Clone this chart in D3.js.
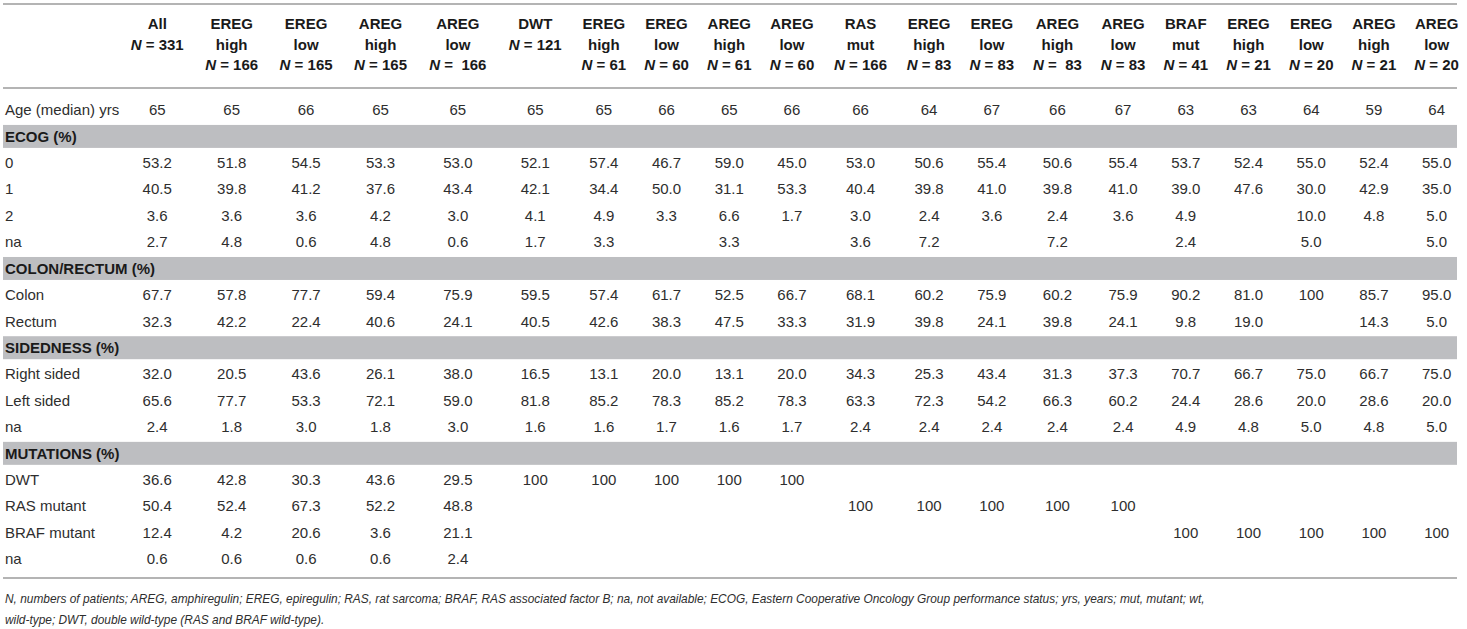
<!DOCTYPE html>
<html>
<head>
<meta charset="utf-8">
<script src="https://cdn.jsdelivr.net/npm/d3@7"></script>
<style>
  body { margin: 0; background: #fff; }
  svg text { font-family: "Liberation Sans", Arial, Helvetica, sans-serif; white-space: pre; }
</style>
</head>
<body>
<script>
// column headers (20 patient groups)
const colName = ['All', 'EREG', 'EREG', 'AREG', 'AREG', 'DWT', 'EREG', 'EREG', 'AREG', 'AREG',
                 'RAS', 'EREG', 'EREG', 'AREG', 'AREG', 'BRAF', 'EREG', 'EREG', 'AREG', 'AREG'];
const colSub  = ['', 'high', 'low', 'high', 'low', '', 'high', 'low', 'high', 'low',
                 'mut', 'high', 'low', 'high', 'low', 'mut', 'high', 'low', 'high', 'low'];
const colN    = ['331', '166', '165', '165', ' 166', '121', '61', '60', '61', '60',
                 '166', '83', '83', ' 83', '83', '41', '21', '20', '21', '20'];

// table values, null = empty cell
const ageMedian  = [65, 65, 66, 65, 65, 65, 65, 66, 65, 66, 66, 64, 67, 66, 67, 63, 63, 64, 59, 64];
const ecog0      = [53.2, 51.8, 54.5, 53.3, 53.0, 52.1, 57.4, 46.7, 59.0, 45.0, 53.0, 50.6, 55.4, 50.6, 55.4, 53.7, 52.4, 55.0, 52.4, 55.0];
const ecog1      = [40.5, 39.8, 41.2, 37.6, 43.4, 42.1, 34.4, 50.0, 31.1, 53.3, 40.4, 39.8, 41.0, 39.8, 41.0, 39.0, 47.6, 30.0, 42.9, 35.0];
const ecog2      = [3.6, 3.6, 3.6, 4.2, 3.0, 4.1, 4.9, 3.3, 6.6, 1.7, 3.0, 2.4, 3.6, 2.4, 3.6, 4.9, null, 10.0, 4.8, 5.0];
const ecogNa     = [2.7, 4.8, 0.6, 4.8, 0.6, 1.7, 3.3, null, 3.3, null, 3.6, 7.2, null, 7.2, null, 2.4, null, 5.0, null, 5.0];
const colon      = [67.7, 57.8, 77.7, 59.4, 75.9, 59.5, 57.4, 61.7, 52.5, 66.7, 68.1, 60.2, 75.9, 60.2, 75.9, 90.2, 81.0, 100, 85.7, 95.0];
const rectum     = [32.3, 42.2, 22.4, 40.6, 24.1, 40.5, 42.6, 38.3, 47.5, 33.3, 31.9, 39.8, 24.1, 39.8, 24.1, 9.8, 19.0, null, 14.3, 5.0];
const rightSided = [32.0, 20.5, 43.6, 26.1, 38.0, 16.5, 13.1, 20.0, 13.1, 20.0, 34.3, 25.3, 43.4, 31.3, 37.3, 70.7, 66.7, 75.0, 66.7, 75.0];
const leftSided  = [65.6, 77.7, 53.3, 72.1, 59.0, 81.8, 85.2, 78.3, 85.2, 78.3, 63.3, 72.3, 54.2, 66.3, 60.2, 24.4, 28.6, 20.0, 28.6, 20.0];
const sideNa     = [2.4, 1.8, 3.0, 1.8, 3.0, 1.6, 1.6, 1.7, 1.6, 1.7, 2.4, 2.4, 2.4, 2.4, 2.4, 4.9, 4.8, 5.0, 4.8, 5.0];
const mutDwt     = [36.6, 42.8, 30.3, 43.6, 29.5, 100, 100, 100, 100, 100, null, null, null, null, null, null, null, null, null, null];
const mutRas     = [50.4, 52.4, 67.3, 52.2, 48.8, null, null, null, null, null, 100, 100, 100, 100, 100, null, null, null, null, null];
const mutBraf    = [12.4, 4.2, 20.6, 3.6, 21.1, null, null, null, null, null, null, null, null, null, null, 100, 100, 100, 100, 100];
const mutNa      = [0.6, 0.6, 0.6, 0.6, 2.4, null, null, null, null, null, null, null, null, null, null, null, null, null, null, null];

const footnote = [
  'N, numbers of patients; AREG, amphiregulin; EREG, epiregulin; RAS, rat sarcoma; BRAF, RAS associated factor B; na, not available; ECOG, Eastern Cooperative Oncology Group performance status; yrs, years; mut, mutant; wt,',
  'wild-type; DWT, double wild-type (RAS and BRAF wild-type).'
];

const rows = [
  { type: 'data', label: 'Age (median) yrs', values: ageMedian, fmt: d3.format('.0f') },
  { type: 'section', label: 'ECOG (%)' },
  { type: 'data', label: '0', values: ecog0 },
  { type: 'data', label: '1', values: ecog1 },
  { type: 'data', label: '2', values: ecog2 },
  { type: 'data', label: 'na', values: ecogNa },
  { type: 'section', label: 'COLON/RECTUM (%)' },
  { type: 'data', label: 'Colon', values: colon },
  { type: 'data', label: 'Rectum', values: rectum },
  { type: 'section', label: 'SIDEDNESS (%)' },
  { type: 'data', label: 'Right sided', values: rightSided },
  { type: 'data', label: 'Left sided', values: leftSided },
  { type: 'data', label: 'na', values: sideNa },
  { type: 'section', label: 'MUTATIONS (%)' },
  { type: 'data', label: 'DWT', values: mutDwt },
  { type: 'data', label: 'RAS mutant', values: mutRas },
  { type: 'data', label: 'BRAF mutant', values: mutBraf },
  { type: 'data', label: 'na', values: mutNa }
];
rows.forEach((r, i) => r.idx = i);

const pctFormat = v => v === 100 ? '100' : d3.format('.1f')(v);

const LAYOUT = {
  width: 1467,
  height: 629,
  left: 3,
  right: 1457,
  labelX: 5,
  colStart: 120,
  colEnd: 1468,
  topRule: 4,
  headRule: 88,
  bodyTop: 96.8,
  bodyBottom: 572.2,
  bottomRule: 578,
  fontSize: 15,
  noteSize: 11.9
};

const svg = d3.select('body').append('svg')
    .attr('width', LAYOUT.width)
    .attr('height', LAYOUT.height);

// measure column content widths; columns share the span in proportion to them
const measure = svg.append('g').attr('opacity', 0);
const textWidth = (str, weight) => {
  const t = measure.append('text')
      .style('font-size', LAYOUT.fontSize + 'px')
      .style('font-weight', weight)
      .text(str);
  const w = t.node().getComputedTextLength();
  t.remove();
  return w;
};

const colIdx = d3.range(colName.length);
const contentW = colIdx.map(i => d3.max([
  textWidth(colName[i], 'bold'),
  textWidth(colSub[i], 'bold'),
  textWidth('N = ' + colN[i], 'bold'),
  ...rows.filter(r => r.type === 'data' && r.values[i] != null)
         .map(r => textWidth((r.fmt || pctFormat)(r.values[i]), 'normal'))
]));
measure.remove();

const k = (LAYOUT.colEnd - LAYOUT.colStart) / d3.sum(contentW);
const colW = contentW.map(w => w * k);
const colRight = d3.cumsum(colW);
const centers = colIdx.map(i => LAYOUT.colStart + colRight[i] - colW[i] / 2);

const x = d3.scaleOrdinal().domain(colIdx).range(centers);

const y = d3.scaleBand()
    .domain(rows.map(r => r.idx))
    .range([LAYOUT.bodyTop, LAYOUT.bodyBottom])
    .paddingInner(0.13)
    .paddingOuter(0.065);

const headY = d3.scalePoint().domain([0, 1, 2]).range([24, 65]);

// rules
const rules = [LAYOUT.topRule, LAYOUT.headRule, LAYOUT.bottomRule];
svg.selectAll('line.rule').data(rules)
  .enter().append('line')
    .attr('class', 'rule')
    .attr('x1', LAYOUT.left)
    .attr('x2', LAYOUT.right)
    .attr('y1', d => d)
    .attr('y2', d => d)
    .attr('stroke', '#b4b4b4')
    .attr('stroke-width', 2);

// header
const head = svg.append('g')
    .style('font-size', LAYOUT.fontSize + 'px')
    .style('font-weight', 'bold')
    .attr('fill', '#1a1a1a')
    .attr('text-anchor', 'middle');

colIdx.forEach(i => {
  const lines = [colName[i], colSub[i], 'N'].filter(s => s !== '');
  lines.forEach((s, j) => {
    const t = head.append('text')
        .attr('x', x(i))
        .attr('y', headY(j))
        .attr('dy', '0.35em');
    if (s === 'N') {
      t.append('tspan').style('font-style', 'italic').text('N');
      t.append('tspan').text(' = ' + colN[i]);
    } else {
      t.text(s);
    }
  });
});

// section bands
const sectionRows = rows.filter(r => r.type === 'section');
svg.selectAll('rect.band').data(sectionRows)
  .enter().append('rect')
    .attr('class', 'band')
    .attr('x', LAYOUT.left)
    .attr('width', LAYOUT.right - LAYOUT.left)
    .attr('y', d => y(d.idx))
    .attr('height', y.bandwidth())
    .attr('fill', '#bdbec1');

svg.selectAll('text.section').data(sectionRows)
  .enter().append('text')
    .attr('class', 'section')
    .attr('x', LAYOUT.labelX)
    .attr('y', d => y(d.idx) + y.bandwidth() / 2)
    .attr('dy', '0.35em')
    .style('font-size', LAYOUT.fontSize + 'px')
    .style('font-weight', 'bold')
    .attr('fill', '#1a1a1a')
    .text(d => d.label);

// data rows
const dataRows = rows.filter(r => r.type === 'data');
svg.selectAll('text.rowlabel').data(dataRows)
  .enter().append('text')
    .attr('class', 'rowlabel')
    .attr('x', LAYOUT.labelX)
    .attr('y', d => y(d.idx) + y.bandwidth() / 2)
    .attr('dy', '0.35em')
    .style('font-size', LAYOUT.fontSize + 'px')
    .attr('fill', '#2e2e2e')
    .text(d => d.label);

const cells = dataRows.flatMap(r => r.values
    .map((v, i) => ({ row: r.idx, col: i, v: v, fmt: r.fmt || pctFormat }))
    .filter(c => c.v != null));

svg.selectAll('text.cell').data(cells)
  .enter().append('text')
    .attr('class', 'cell')
    .attr('x', d => x(d.col))
    .attr('y', d => y(d.row) + y.bandwidth() / 2)
    .attr('dy', '0.35em')
    .attr('text-anchor', 'middle')
    .style('font-size', LAYOUT.fontSize + 'px')
    .attr('fill', '#2e2e2e')
    .text(d => d.fmt(d.v));

// footnote
svg.selectAll('text.note').data(footnote)
  .enter().append('text')
    .attr('class', 'note')
    .attr('x', LAYOUT.labelX)
    .attr('y', (d, i) => 599 + i * 21)
    .attr('dy', '0.35em')
    .style('font-size', LAYOUT.noteSize + 'px')
    .style('font-style', 'italic')
    .attr('fill', '#2e2e2e')
    .text(d => d);
</script>
</body>
</html>
